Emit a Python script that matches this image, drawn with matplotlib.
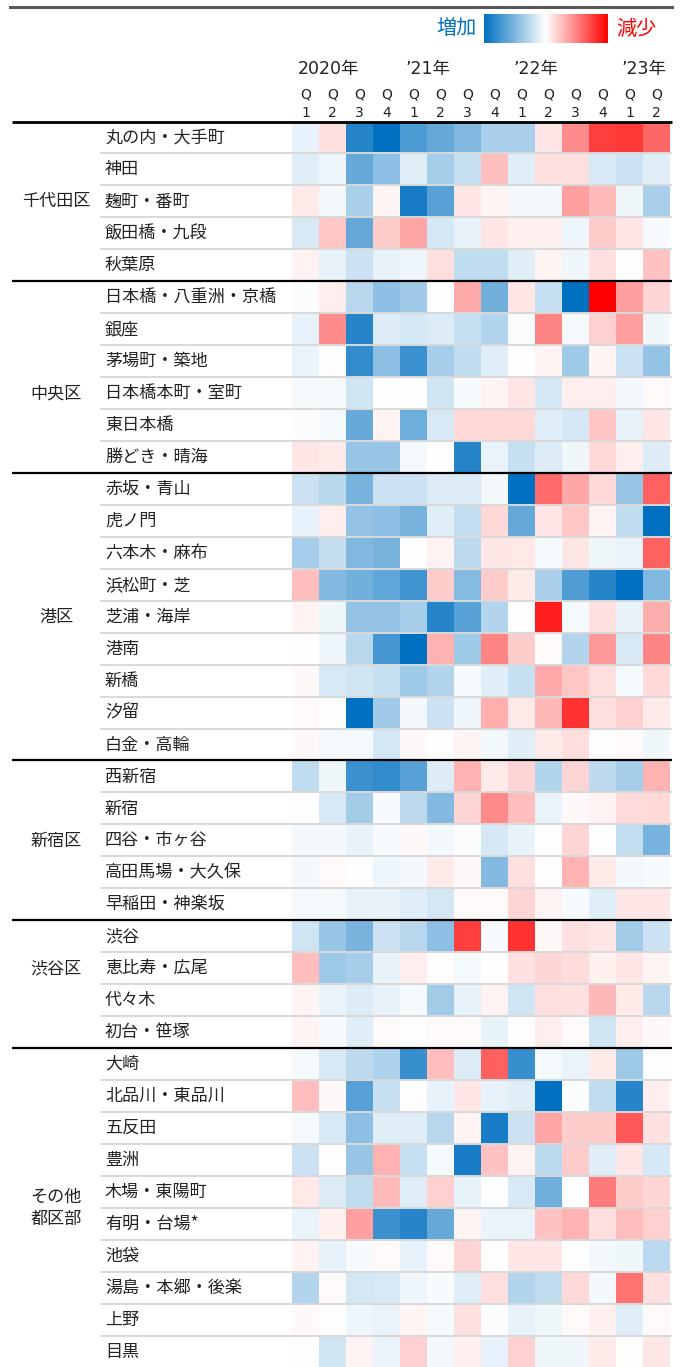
import numpy as np
import matplotlib
matplotlib.use('Agg')
import matplotlib.pyplot as plt
from matplotlib.colors import LinearSegmentedColormap, Normalize
from matplotlib.cm import ScalarMappable

plt.rcParams['font.family'] = ['Noto Sans CJK JP', 'DejaVu Sans']

# ---------------- data ----------------
quarter_q = ['Q'] * 14
quarter_n = ['1', '2', '3', '4', '1', '2', '3', '4', '1', '2', '3', '4', '1', '2']
year_labels = ['2020年', '’21年', '’22年', '’23年']
year_cols = [0, 4, 8, 12]

districts = ['千代田区', '中央区', '港区', '新宿区', '渋谷区', 'その他\n都区部']

areas_chiyoda = ['丸の内・大手町', '神田', '麹町・番町', '飯田橋・九段', '秋葉原']
areas_chuo = ['日本橋・八重洲・京橋', '銀座', '茅場町・築地', '日本橋本町・室町', '東日本橋', '勝どき・晴海']
areas_minato = ['赤坂・青山', '虎ノ門', '六本木・麻布', '浜松町・芝', '芝浦・海岸', '港南', '新橋', '汐留', '白金・高輪']
areas_shinjuku = ['西新宿', '新宿', '四谷・市ヶ谷', '高田馬場・大久保', '早稲田・神楽坂']
areas_shibuya = ['渋谷', '恵比寿・広尾', '代々木', '初台・笹塚']
areas_other = ['大崎', '北品川・東品川', '五反田', '豊洲', '木場・東陽町', '有明・台場*', '池袋', '湯島・本郷・後楽', '上野', '目黒']

# negative = 増加 (blue), positive = 減少 (red)
vals_chiyoda = [
    [-0.10, 0.12, -0.85, -1.00, -0.70, -0.60, -0.50, -0.33, -0.33, 0.10, 0.45, 0.75, 0.78, 0.60],
    [-0.12, -0.07, -0.60, -0.45, -0.12, -0.35, -0.22, 0.25, -0.12, 0.13, 0.13, -0.15, -0.20, -0.12],
    [0.08, -0.05, -0.33, 0.04, -0.90, -0.65, 0.10, 0.04, -0.05, -0.05, 0.37, 0.27, -0.06, -0.33],
    [-0.15, 0.22, -0.60, 0.20, 0.35, -0.17, -0.10, 0.10, 0.06, 0.06, -0.07, 0.20, 0.10, -0.03],
    [0.05, -0.10, -0.20, -0.10, -0.07, 0.13, -0.25, -0.25, -0.12, 0.04, -0.06, 0.12, 0.00, 0.24],
]
vals_chuo = [
    [-0.02, 0.07, -0.28, -0.45, -0.37, -0.01, 0.33, -0.55, 0.10, -0.22, -1.00, 1.00, 0.38, 0.17],
    [-0.10, 0.45, -0.85, -0.13, -0.17, -0.14, -0.22, -0.30, -0.02, 0.48, -0.04, 0.18, 0.38, -0.06],
    [-0.08, 0.01, -0.80, -0.45, -0.77, -0.35, -0.25, -0.12, 0.00, 0.05, -0.38, 0.04, -0.20, -0.42],
    [-0.04, -0.04, -0.18, 0.00, 0.00, -0.18, -0.03, 0.04, 0.10, -0.17, 0.07, 0.07, -0.05, 0.02],
    [-0.02, -0.04, -0.60, 0.05, -0.57, -0.15, 0.15, 0.15, 0.15, -0.12, -0.16, 0.23, -0.10, 0.10],
    [0.10, 0.08, -0.40, -0.40, -0.04, 0.00, -0.85, -0.08, -0.22, -0.14, -0.06, 0.15, 0.07, -0.13],
]
vals_minato = [
    [-0.20, -0.28, -0.53, -0.20, -0.20, -0.14, -0.14, -0.05, -1.00, 0.58, 0.35, 0.15, -0.40, 0.62],
    [-0.10, 0.07, -0.42, -0.45, -0.53, -0.12, -0.24, 0.15, -0.60, 0.10, 0.22, 0.05, -0.25, -1.00],
    [-0.35, -0.23, -0.50, -0.53, 0.00, 0.05, -0.26, 0.10, 0.09, -0.04, 0.10, -0.06, -0.08, 0.62],
    [0.25, -0.48, -0.55, -0.62, -0.75, 0.20, -0.47, 0.20, 0.08, -0.33, -0.68, -0.85, -1.00, -0.50],
    [0.05, -0.06, -0.42, -0.42, -0.35, -0.85, -0.65, -0.30, 0.00, 0.88, -0.04, 0.12, -0.09, 0.32],
    [0.00, -0.07, -0.28, -0.72, -1.00, 0.30, -0.38, 0.48, 0.20, 0.02, -0.30, 0.40, -0.15, 0.48],
    [0.03, -0.15, -0.18, -0.22, -0.38, -0.30, -0.03, -0.12, -0.22, 0.33, 0.22, 0.13, -0.04, 0.15],
    [0.02, 0.00, -1.00, -0.37, -0.05, -0.20, -0.07, 0.32, 0.09, 0.28, 0.80, 0.13, 0.18, 0.08],
    [0.03, -0.04, -0.04, -0.17, 0.03, 0.00, 0.04, -0.05, -0.12, 0.08, 0.13, 0.00, 0.02, -0.06],
]
vals_shinjuku = [
    [-0.25, -0.06, -0.77, -0.80, -0.65, -0.13, 0.30, 0.08, 0.17, -0.30, 0.17, -0.26, -0.35, 0.30],
    [0.00, -0.15, -0.36, -0.03, -0.26, -0.48, 0.17, 0.46, 0.25, -0.08, 0.03, 0.05, 0.14, 0.15],
    [-0.05, -0.05, -0.09, -0.03, 0.03, -0.05, -0.02, -0.16, -0.09, 0.00, 0.17, -0.01, -0.24, -0.53],
    [-0.05, 0.02, 0.00, -0.07, -0.05, 0.08, 0.03, -0.48, 0.12, 0.01, 0.30, 0.08, -0.05, -0.03],
    [-0.04, -0.04, -0.10, -0.10, -0.12, -0.17, 0.02, 0.02, 0.17, 0.05, -0.03, -0.12, 0.10, 0.10],
]
vals_shibuya = [
    [-0.18, -0.40, -0.52, -0.20, -0.28, -0.45, 0.75, -0.03, 0.80, 0.03, 0.12, 0.10, -0.36, -0.20],
    [0.25, -0.38, -0.35, -0.09, 0.07, 0.01, -0.04, 0.00, 0.12, 0.16, 0.14, 0.06, 0.10, 0.04],
    [0.04, -0.08, -0.13, -0.10, -0.04, -0.36, -0.10, 0.05, -0.18, 0.13, 0.12, 0.28, 0.08, -0.28],
    [0.04, -0.03, -0.12, 0.02, -0.01, 0.02, 0.02, -0.09, 0.00, 0.07, 0.02, -0.18, 0.07, 0.03],
]
vals_other = [
    [-0.04, -0.15, -0.26, -0.32, -0.78, 0.25, -0.14, 0.62, -0.78, -0.04, -0.08, 0.08, -0.38, -0.01],
    [0.25, 0.03, -0.66, -0.22, 0.01, -0.10, 0.10, -0.10, -0.12, -1.00, -0.02, -0.25, -0.85, 0.07],
    [-0.04, -0.15, -0.45, -0.12, -0.12, -0.28, 0.04, -0.90, -0.20, 0.35, 0.20, 0.20, 0.65, 0.12],
    [-0.20, 0.00, -0.40, 0.30, -0.22, -0.04, -0.90, 0.24, 0.05, -0.27, 0.20, -0.12, 0.10, -0.16],
    [0.09, -0.14, -0.25, 0.27, -0.12, 0.18, -0.10, -0.01, -0.15, -0.56, -0.01, 0.52, 0.20, 0.17],
    [-0.08, 0.06, 0.37, -0.77, -0.85, -0.60, 0.04, -0.08, -0.08, 0.24, 0.30, 0.13, 0.25, 0.18],
    [0.05, -0.10, -0.03, 0.02, -0.10, 0.02, 0.17, 0.00, 0.10, 0.10, 0.00, -0.05, -0.06, -0.27],
    [-0.30, 0.02, -0.17, -0.15, -0.07, -0.03, -0.12, 0.13, -0.30, -0.25, 0.15, -0.05, 0.55, 0.12],
    [0.03, 0.00, -0.07, -0.08, 0.04, -0.04, 0.12, -0.02, -0.10, -0.06, 0.02, 0.06, -0.12, 0.02],
    [0.00, -0.18, 0.05, -0.08, 0.18, -0.05, 0.06, -0.10, 0.18, -0.06, -0.06, 0.08, 0.01, 0.10],
]

area_groups = [areas_chiyoda, areas_chuo, areas_minato, areas_shinjuku, areas_shibuya, areas_other]
val_groups = [vals_chiyoda, vals_chuo, vals_minato, vals_shinjuku, vals_shibuya, vals_other]

# ---------------- layout ----------------
W, H = 682, 1367
fig = plt.figure(figsize=(W / 100, H / 100), dpi=100)
fig.patch.set_facecolor('white')

def fx(px):
    return px / W

def fy(py):
    return 1 - py / H

cmap = LinearSegmentedColormap.from_list('incdec', ['#0070C0', '#FFFFFF', '#FF0000'])
norm = Normalize(vmin=-1, vmax=1)

areas = [a for g in area_groups for a in g]
data = np.array([row for g in val_groups for row in g])
nrows, ncols = data.shape

grid_left, grid_right = 292, 670
grid_top, grid_bottom = 121.5, 1367.5
col_w = (grid_right - grid_left) / ncols

ax = fig.add_axes([fx(grid_left), fy(grid_bottom), (grid_right - grid_left) / W,
                   (grid_bottom - grid_top) / H])
ax.pcolormesh(np.arange(ncols + 1), np.arange(nrows + 1), data, cmap=cmap, norm=norm)
ax.set_xlim(0, ncols)
ax.set_ylim(nrows, 0)
ax.axis('off')

def xdata(px):
    return (px - grid_left) / col_w

row_h = (grid_bottom - grid_top) / nrows
def ydata(py):
    return (py - grid_top) / row_h

txt_col = '#222222'
latin = ['DejaVu Sans', 'Noto Sans CJK JP']

# row labels & separators
group_starts = np.cumsum([0] + [len(g) for g in area_groups])
group_label_rows = [2.5, 8.5, 15.5, 22.5, 26.5, 34.0]
for i, a in enumerate(areas):
    ax.text(xdata(105), i + 0.5, a, ha='left', va='center', fontsize=12.3,
            color=txt_col, clip_on=False)
for r in range(1, nrows):
    if r in group_starts:
        ax.plot([xdata(12), xdata(672)], [r, r], color='black', lw=1.6,
                clip_on=False, solid_capstyle='butt', zorder=5)
    else:
        ax.plot([xdata(100), xdata(672)], [r, r], color='#D9D9D9', lw=1.4,
                clip_on=False, solid_capstyle='butt', zorder=4)
ax.plot([xdata(12), xdata(672)], [0, 0], color='black', lw=2.0,
        clip_on=False, solid_capstyle='butt', zorder=5)

for d, yr in zip(districts, group_label_rows):
    ax.text(xdata(56), yr, d, ha='center', va='center', fontsize=12.3,
            color=txt_col, linespacing=1.25, clip_on=False)

# column header
for j, (q, n) in enumerate(zip(quarter_q, quarter_n)):
    ax.text(j + 0.5, ydata(95), q, ha='center', va='center', fontsize=10,
            family=latin, color=txt_col, clip_on=False)
    ax.text(j + 0.5, ydata(113), n, ha='center', va='center', fontsize=10,
            family=latin, color=txt_col, clip_on=False)
for yl, c in zip(year_labels, year_cols):
    ax.text(c + 0.2, ydata(69), yl, ha='left', va='center', fontsize=12.5,
            family=latin, color=txt_col, clip_on=False)

# top grey rule
fig.add_artist(plt.Line2D([fx(10), fx(672)], [fy(7), fy(7)], color='#595959', lw=2.2,
                          transform=fig.transFigure))

# colour legend
cax = fig.add_axes([fx(484), fy(43), 124 / W, 29 / H])
cb = fig.colorbar(ScalarMappable(norm=norm, cmap=cmap), cax=cax, orientation='horizontal')
cb.set_ticks([])
cb.outline.set_visible(False)
fig.text(fx(477), fy(29), '増加', ha='right', va='center', fontsize=14.5, color='#0070C0')
fig.text(fx(616), fy(29), '減少', ha='left', va='center', fontsize=14.5, color='#FF0000')

fig.savefig('out.png', dpi=100, facecolor='white')
